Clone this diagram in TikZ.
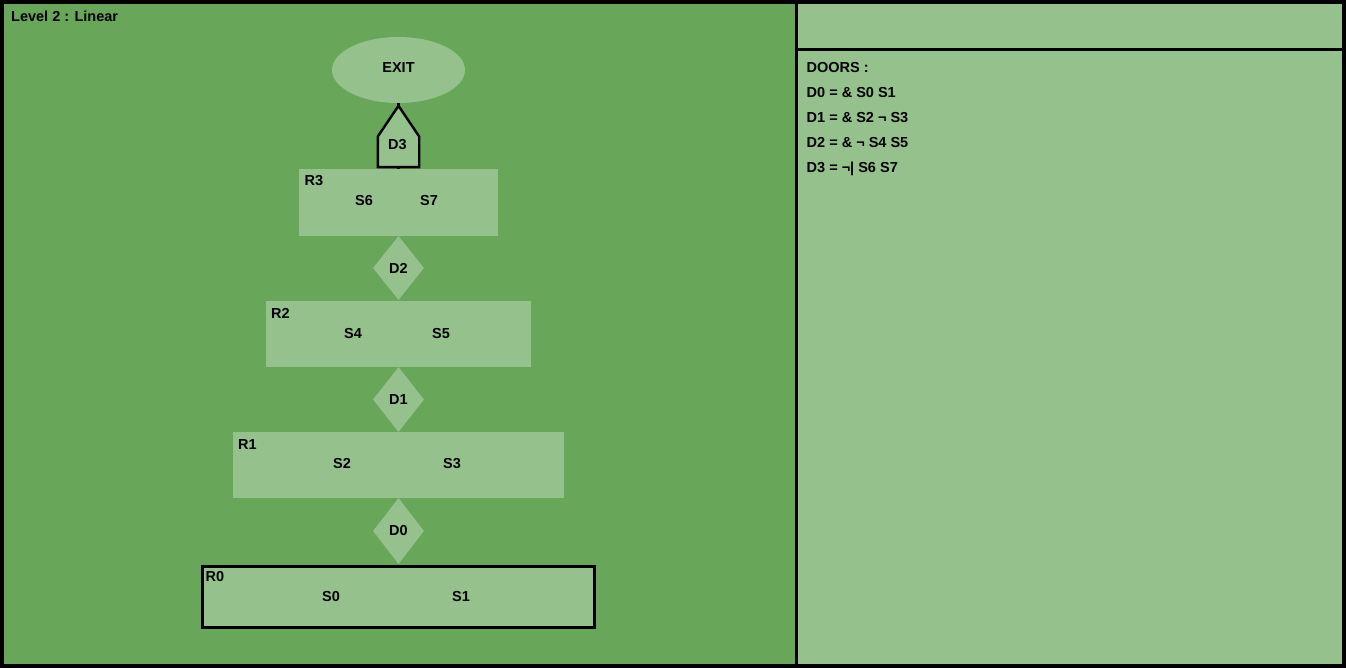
\documentclass[tikz,border=0pt]{standalone}
\usepackage{fontspec}
\setmainfont{Liberation Sans}
\usetikzlibrary{shapes.geometric}
\definecolor{dkgreen}{RGB}{104,166,89}
\definecolor{ltgreen}{RGB}{149,194,140}
\begin{document}
\begin{tikzpicture}[x=1pt,y=-1pt,
  font=\fontsize{14.5}{17}\selectfont\bfseries,
  room/.style={fill=ltgreen, inner sep=0pt, minimum height=66pt},
  door/.style={diamond, fill=ltgreen, inner sep=0pt, minimum width=51pt, minimum height=64pt},
  txt/.style={inner sep=0pt, anchor=base},
  lbl/.style={inner sep=0pt, anchor=base west},
  frame/.style={line width=3pt, draw=black}]
\useasboundingbox (0,0) rectangle (1346,668);
% panels
\fill[dkgreen] (0,0) rectangle (796,668);
\fill[ltgreen] (796,0) rectangle (1346,668);
\draw[frame, line width=4pt] (2,2) rectangle (1344,666);
\draw[frame] (796,0) -- (796,668);
\draw[frame] (796,50) -- (1346,50);
\node[lbl] (title) at (11,21.7) {Level 2 : Linear};
% exit
\node[ellipse, fill=ltgreen, inner sep=0pt, minimum width=133pt, minimum height=66pt] (EXIT) at (398.5,70) {};
\node[inner sep=0pt] (EXITtxt) at (398.5,68) {EXIT};
% rooms
\node[room, minimum width=199pt, minimum height=67pt] (R3) at (398.5,202.5) {};
\node[lbl] (R3l) at (304.5,186) {R3};
\node[txt] (S6) at (364,206) {S6};
\node[txt] (S7) at (429,206) {S7};

\node[room, minimum width=265pt] (R2) at (398.5,334) {};
\node[lbl] (R2l) at (271,318) {R2};
\node[txt] (S4) at (353,338.5) {S4};
\node[txt] (S5) at (441,338.5) {S5};

\node[room, minimum width=331pt] (R1) at (398.5,465) {};
\node[lbl] (R1l) at (238,449) {R1};
\node[txt] (S2) at (342,468.5) {S2};
\node[txt] (S3) at (452,468.5) {S3};

\node[room, draw=black, line width=3pt, minimum width=392.3pt, minimum height=61pt] (R0) at (398.4,597) {};
\node[lbl] (R0l) at (205.5,581) {R0};
\node[txt] (S0) at (331,601) {S0};
\node[txt] (S1) at (461,601) {S1};
% doors
\node[door] (D2) at (398.5,268) {D2};
\node[door, minimum height=65pt] (D1) at (398.5,399.5) {D1};
\node[door, minimum height=66pt] (D0) at (398.5,531) {D0};
% exit door D3
\node[inner sep=0pt, minimum width=41pt, minimum height=61pt] (D3) at (398.5,136.5) {};
\draw[line width=2.4pt] (D3.south) -- (R3.north);
\draw[line width=2.4pt] (EXIT.south) -- (D3.north);
\draw[line width=2.4pt, fill=ltgreen, line join=miter]
  (D3.south west) -- (D3.west) -- (D3.north) -- (D3.east) -- (D3.south east) -- cycle;
\node[inner sep=0pt] (D3txt) at (397.5,144.5) {D3};
% door list
\node[lbl] (doors) at (806.5,72.3) {DOORS :};
\node[lbl] (d0) at (806.5,97.3) {D0 = \& S0 S1};
\node[lbl] (d1) at (806.5,122.3) {D1 = \& S2 ¬ S3};
\node[lbl] (d2) at (806.5,147.3) {D2 = \& ¬ S4 S5};
\node[lbl] (d3) at (806.5,172.3) {D3 = ¬| S6 S7};
\end{tikzpicture}
\end{document}
